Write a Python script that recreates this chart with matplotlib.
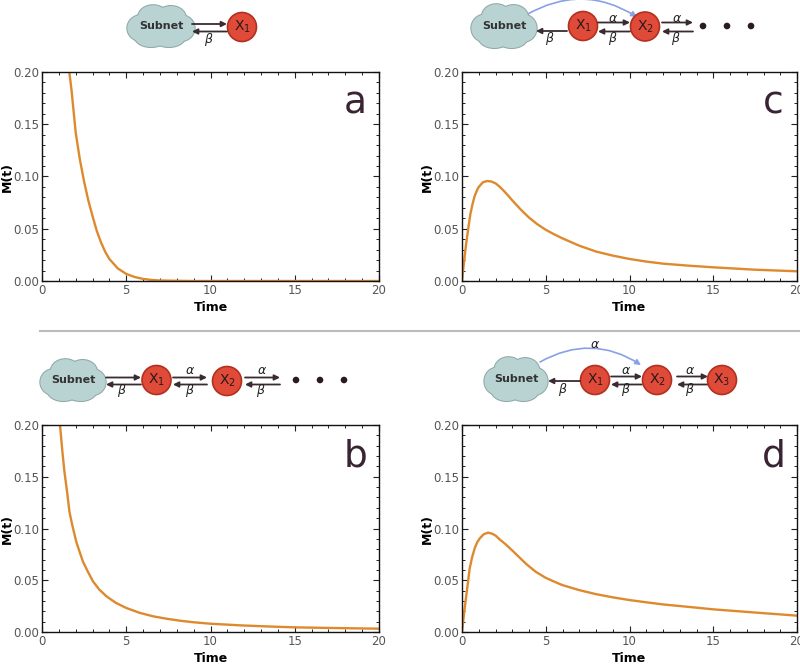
import numpy as np
import matplotlib
matplotlib.use("Agg")
import matplotlib.pyplot as plt
from matplotlib.patches import Circle, Ellipse, FancyArrowPatch

# ---------------- data ----------------
t_a = [1.5, 1.62, 1.75, 2.0, 2.25, 2.5, 2.75, 3.0, 3.25, 3.5, 3.75, 4.0, 4.5, 5.0, 5.5, 6.0, 6.5, 7.0, 8.0, 9.0, 12.0, 15.0, 20.0]
m_a = [0.225, 0.200, 0.183, 0.142, 0.116, 0.095, 0.077, 0.062, 0.048, 0.037, 0.028, 0.021, 0.012, 0.0068, 0.0038, 0.0020, 0.0010, 0.0005, 0.0002, 0.0, 0.0, 0.0, 0.0]

t_b = [1.0, 1.07, 1.2, 1.33, 1.5, 1.63, 1.8, 2.03, 2.2, 2.43, 2.7, 3.03, 3.4, 3.83, 4.4, 5.02, 5.8, 6.61, 7.4, 8.2, 9.0, 10.0, 11.8, 13.5, 14.98, 17.5, 20.0]
m_b = [0.21, 0.200, 0.176, 0.155, 0.134, 0.116, 0.103, 0.0874, 0.079, 0.068, 0.059, 0.0488, 0.041, 0.0344, 0.028, 0.0231, 0.0185, 0.0151, 0.0128, 0.0109, 0.0094, 0.0080, 0.0064, 0.0053, 0.0045, 0.0038, 0.0032]

t_c = [0.0, 0.12, 0.25, 0.38, 0.5, 0.62, 0.75, 0.9, 1.0, 1.25, 1.5, 1.75, 2.0, 2.25, 2.5, 2.75, 3.0, 3.5, 4.0, 4.5, 5.0, 5.5, 6.0, 7.0, 8.0, 9.0, 10.0, 11.0, 12.0, 13.5, 15.0, 17.5, 20.0]
m_c = [0.0, 0.018, 0.036, 0.051, 0.064, 0.073, 0.081, 0.087, 0.090, 0.0945, 0.0957, 0.0952, 0.0935, 0.0902, 0.0862, 0.0818, 0.0772, 0.0685, 0.0607, 0.0543, 0.0490, 0.0447, 0.0408, 0.0338, 0.0282, 0.0243, 0.0211, 0.0186, 0.0166, 0.0147, 0.0131, 0.0108, 0.0093]

t_d = [0.0, 0.13, 0.26, 0.46, 0.6, 0.76, 0.9, 1.06, 1.3, 1.56, 1.8, 2.0, 2.26, 2.6, 3.05, 3.4, 3.85, 4.4, 4.98, 5.5, 5.98, 6.97, 7.99, 9.0, 9.98, 11.0, 11.97, 13.5, 15.0, 17.5, 20.0]
m_d = [0.0, 0.019, 0.0357, 0.0615, 0.072, 0.081, 0.0865, 0.0905, 0.0945, 0.0960, 0.0950, 0.0932, 0.0893, 0.0848, 0.0780, 0.0725, 0.0655, 0.0582, 0.0525, 0.0487, 0.0454, 0.0406, 0.0366, 0.0335, 0.0309, 0.0287, 0.0267, 0.0243, 0.0219, 0.0188, 0.0158]

panel_letters = ["a", "b", "c", "d"]
x_ticks = [0, 5, 10, 15, 20]
y_ticks = [0.00, 0.05, 0.10, 0.15, 0.20]
y_tick_labels = ["0.00", "0.05", "0.10", "0.15", "0.20"]

ORANGE = "#dd8a2e"
LETTER = "#3a2434"
TICKC = "#555555"
W, H = 800, 670

fig = plt.figure(figsize=(8, 6.7), dpi=100)

def make_ax(l, r, top, bot):
    return fig.add_axes([l / W, 1 - bot / H, (r - l) / W, (bot - top) / H])

ax_a = make_ax(42, 379, 72, 281)
ax_c = make_ax(462, 797, 72, 281)
ax_b = make_ax(42, 379, 425, 632)
ax_d = make_ax(462, 797, 425, 632)

for ax, t, m, letter, ylx in [(ax_a, t_a, m_a, "a", 14), (ax_b, t_b, m_b, "b", 14),
                              (ax_c, t_c, m_c, "c", 434), (ax_d, t_d, m_d, "d", 434)]:
    ax.plot(t, m, color=ORANGE, lw=1.7, solid_capstyle="round", solid_joinstyle="round")
    ax.set_xlim(0, 20)
    ax.set_ylim(0, 0.20)
    ax.set_xticks(x_ticks)
    ax.set_xticks(np.arange(0, 21, 1), minor=True)
    ax.set_yticks(y_ticks)
    ax.set_yticklabels(y_tick_labels)
    ax.set_yticks(np.arange(0, 0.2001, 0.01), minor=True)
    ax.tick_params(which="both", direction="in", top=True, right=True,
                   labelsize=8.5, labelcolor=TICKC, color="#222222", pad=2)
    ax.tick_params(which="major", length=4.5, width=0.8)
    ax.tick_params(which="minor", length=2.5, width=0.7)
    for s in ax.spines.values():
        s.set_linewidth(1.0)
        s.set_color("#111111")
    ax.set_xlabel("Time", fontsize=9, fontweight="bold", labelpad=3)
    ax.set_ylabel("M(t)", fontsize=9, fontweight="bold")
    bb = ax.get_position()
    ax.yaxis.set_label_coords((ylx / W - bb.x0) / bb.width, 0.5)
    ax.text(0.93, 0.85, letter, transform=ax.transAxes, fontsize=27,
            color=LETTER, ha="center", va="center")

# ---------------- overlay for diagrams ----------------
ov = fig.add_axes([0, 0, 1, 1], zorder=5)
ov.set_xlim(0, W)
ov.set_ylim(H, 0)
ov.axis("off")
ov.patch.set_alpha(0)

ov.plot([40, 800], [331, 331], color="#bbbbbb", lw=1.5)

DARK = "#3a2a32"
CLOUD_F = "#b9d3d3"
CLOUD_E = "#8fa8a8"

def cloud(cx, cy, w, h):
    parts = [(-0.30, 0.05, 0.42, 0.62), (-0.12, -0.22, 0.45, 0.55), (0.15, -0.20, 0.45, 0.55),
             (0.30, 0.05, 0.42, 0.62), (0.12, 0.25, 0.50, 0.50), (-0.15, 0.25, 0.50, 0.50),
             (0.0, 0.0, 0.75, 0.70)]
    for dx, dy, ww, hh in parts:
        ov.add_patch(Ellipse((cx + dx * w, cy + dy * h), ww * w, hh * h,
                             facecolor=CLOUD_F, edgecolor=CLOUD_E, lw=1.5, zorder=2))
    for dx, dy, ww, hh in parts:
        ov.add_patch(Ellipse((cx + dx * w, cy + dy * h), ww * w, hh * h,
                             facecolor=CLOUD_F, edgecolor="none", zorder=3))
    ov.text(cx, cy, "Subnet", ha="center", va="center", fontsize=8,
            color="#333333", fontweight="bold", zorder=4)

def node(cx, cy, idx, r=14.5):
    ov.add_patch(Circle((cx, cy), r, facecolor="#e04a38", edgecolor="#b2301f", lw=1.2, zorder=3))
    ov.text(cx, cy, "X$_{%d}$" % idx, ha="center", va="center", fontsize=10,
            color="#2a1a1a", zorder=4)

def arrow(x0, x1, y, color=DARK):
    ov.add_patch(FancyArrowPatch((x0, y), (x1, y), arrowstyle="-|>", mutation_scale=8,
                                 color=color, lw=1.3, shrinkA=0, shrinkB=0, zorder=3))

def lab(x, y, s):
    ov.text(x, y, s, ha="center", va="center", fontsize=9, color="#222222",
            style="italic", zorder=4)

def dots(xs, y):
    for x in xs:
        ov.add_patch(Circle((x, y), 3.3, facecolor="#2a1a22", edgecolor="none", zorder=3))

def blue_arc(x0, y0, x1, y1, rad):
    ov.add_patch(FancyArrowPatch((x0, y0), (x1, y1), connectionstyle="arc3,rad=%s" % rad,
                                 arrowstyle="-|>", mutation_scale=8, color="#8aa0e6",
                                 lw=1.2, shrinkA=0, shrinkB=0, zorder=1))

# diagram a
cloud(161, 26, 66, 42)
node(242, 27, 1)
arrow(192, 227, 24)
arrow(227, 192, 31.5)
lab(209, 39, r"$\beta$")

# diagram c
blue_arc(526, 15, 637, 17, -0.3)
cloud(504, 26, 64, 44)
node(583, 26, 1)
node(645, 26.5, 2)
arrow(567, 536, 31)
lab(550, 38.5, r"$\beta$")
arrow(598, 630, 22.5)
arrow(630, 598, 31.5)
lab(613, 18.5, r"$\alpha$")
lab(613, 38.5, r"$\beta$")
arrow(662, 693, 22.5)
arrow(693, 662, 31.5)
lab(677, 18.5, r"$\alpha$")
lab(676, 38.5, r"$\beta$")
dots([703, 727, 751], 26)

# diagram b
cloud(73, 380, 64, 42)
node(156.5, 380, 1)
arrow(106, 141, 377.5)
arrow(141, 106, 384.5)
lab(122, 390.5, r"$\beta$")
arrow(173, 207, 377.5)
arrow(207, 173, 384.5)
lab(190, 370.5, r"$\alpha$")
lab(189.5, 390.5, r"$\beta$")
node(227, 381, 2)
arrow(245, 280, 377.5)
arrow(280, 245, 384.5)
lab(262, 370.5, r"$\alpha$")
lab(261, 390.5, r"$\beta$")
dots([296, 320, 344], 380)

# diagram d
blue_arc(540, 362, 641, 365, -0.3)
lab(595, 345, r"$\alpha$")
cloud(516, 379, 62, 44)
node(595, 380, 1)
arrow(580, 548, 381)
lab(563, 389.5, r"$\beta$")
arrow(611, 642, 376.5)
arrow(642, 611, 384.5)
lab(626, 370, r"$\alpha$")
lab(626, 389.5, r"$\beta$")
node(657, 380, 2)
arrow(677, 708, 376.5)
arrow(708, 677, 384.5)
lab(690, 370, r"$\alpha$")
lab(689.5, 389.5, r"$\beta$")
node(722, 380, 3)

fig.savefig("out.png", dpi=100)
